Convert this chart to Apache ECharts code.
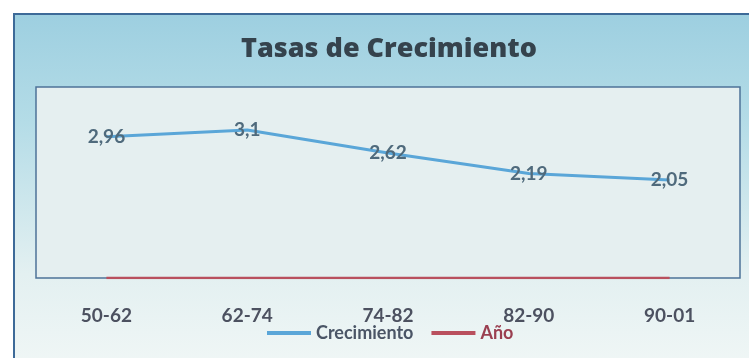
<!DOCTYPE html>
<html>
<head>
<meta charset="utf-8">
<style>
  html, body { margin: 0; padding: 0; background: #ffffff; }
  #chart { width: 749px; height: 358px; }
</style>
<script src="https://cdn.jsdelivr.net/npm/echarts@6/dist/echarts.min.js"></script>
</head>
<body>
<div id="chart"></div>
<script>
// Periods and growth rates
const periods = ['50-62', '62-74', '74-82', '82-90', '90-01'];
const crecimiento = [2.96, 3.1, 2.62, 2.19, 2.05];
const anio = [0, 0, 0, 0, 0];
const seriesNames = ['Crecimiento', 'Año'];
const titleText = 'Tasas de Crecimiento';

const FONT = 'Lato, "Open Sans", sans-serif';
const TITLE_FONT = '"Open Sans", Lato, sans-serif';
const chart = echarts.init(document.getElementById('chart'), null, { renderer: 'canvas' });

const fmt = v => String(v).replace('.', ',');

chart.setOption({
  animation: false,
  backgroundColor: '#ffffff',
  graphic: [
    {
      type: 'rect',
      z: -10,
      shape: { x: 14, y: 14, width: 760, height: 360 },
      style: {
        fill: new echarts.graphic.LinearGradient(0, 0, 0, 1, [
          { offset: 0, color: '#9dcfe0' },
          { offset: 0.3, color: '#b4dce7' },
          { offset: 0.72, color: '#e3f0f1' },
          { offset: 1, color: '#f1f7f6' }
        ]),
        stroke: '#3d6a98',
        lineWidth: 2
      }
    }
  ],
  title: {
    text: titleText,
    left: 236,
    top: 31,
    textStyle: { fontFamily: TITLE_FONT, fontSize: 27, fontWeight: 800, color: '#35434d' }
  },
  legend: {
    left: 262,
    top: 319,
    icon: 'rect',
    itemWidth: 44,
    itemHeight: 4,
    itemGap: 18,
    textStyle: { fontFamily: FONT, fontSize: 18, fontWeight: 'bold' },
    data: [
      { name: seriesNames[0], textStyle: { color: '#4a5566' } },
      { name: seriesNames[1], textStyle: { color: '#9a3f50' } }
    ]
  },
  grid: {
    left: 36, right: 9, top: 87, bottom: 80,
    show: true,
    backgroundColor: '#e5eff0',
    borderColor: '#4d7398',
    borderWidth: 1.5
  },
  xAxis: {
    type: 'category',
    data: periods,
    boundaryGap: true,
    axisLine: { show: false },
    axisTick: { show: false },
    splitLine: { show: false },
    axisLabel: { margin: 28, fontFamily: FONT, fontSize: 19, fontWeight: 'bold', color: '#4c5160' }
  },
  yAxis: {
    type: 'value',
    min: 0, max: 4, interval: 1,
    show: false,
    splitLine: { show: false }
  },
  series: [
    {
      name: seriesNames[0],
      type: 'line',
      data: crecimiento,
      symbol: 'circle',
      symbolSize: 0,
      showSymbol: true,
      lineStyle: { color: '#5aa6d8', width: 3 },
      itemStyle: { color: '#5aa6d8' },
      label: {
        show: true,
        position: 'inside',
        formatter: p => fmt(p.value),
        fontFamily: FONT,
        fontSize: 19,
        fontWeight: 'bold',
        color: '#4f6a7c'
      },
      z: 3
    },
    {
      name: seriesNames[1],
      type: 'line',
      data: anio,
      symbol: 'none',
      lineStyle: { color: '#b9505e', width: 2.5 },
      itemStyle: { color: '#b9505e' },
      label: { show: false },
      z: 2
    }
  ]
});
</script>
</body>
</html>
